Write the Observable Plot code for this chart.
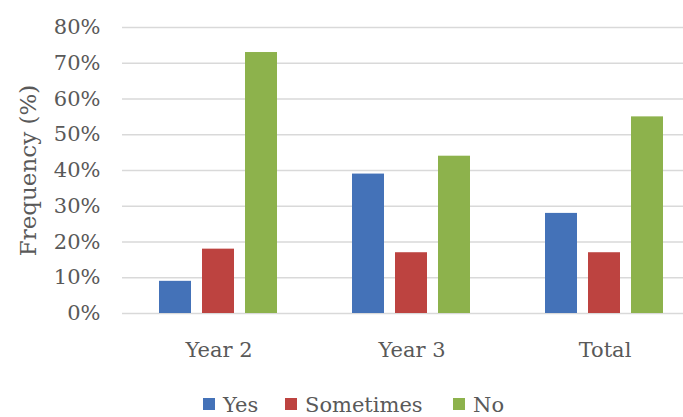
<!DOCTYPE html>
<html>
<head>
<meta charset="utf-8">
<script src="https://cdn.jsdelivr.net/npm/d3@7"></script>
<script src="https://cdn.jsdelivr.net/npm/@observablehq/plot@0.6"></script>
<style>
  html, body { margin: 0; padding: 0; background: #fff; overflow: hidden; }
  body { position: relative; width: 683px; height: 417px; }
  #chart svg { display: block; }
  #legend {
    position: absolute; left: 203px; top: 394px; height: 22px; line-height: 22px;
    display: flex; align-items: center;
    font-family: "DejaVu Serif", serif; font-size: 21px; color: #595959;
    white-space: nowrap;
  }
  #legend .item { display: flex; align-items: center; }
  #legend .item:nth-child(1) { width: 82px; }
  #legend .item:nth-child(2) { width: 168px; }
  #legend .sw { width: 12px; height: 12px; margin-right: 8px; flex: none; position: relative; top: -1px; }
</style>
</head>
<body>
<div id="chart"></div>
<div id="legend"></div>
<script>
// Groups along the x axis and the three answers in each group
const categories = ["Year 2", "Year 3", "Total"];
const series = ["Yes", "Sometimes", "No"];

// Frequency (%) per answer, one value per group
const yes = [9, 39, 28];
const sometimes = [18, 17, 17];
const no = [73, 44, 55];

const colors = ["#4472B8", "#BD4340", "#8DB24C"];
const yTicks = [0, 10, 20, 30, 40, 50, 60, 70, 80];
const yTitle = "Frequency (%)";

const valuesBySeries = [yes, sometimes, no];
const data = categories.flatMap((group, i) =>
  series.map((answer, j) => ({group, answer, value: valuesBySeries[j][i]}))
);

const chart = Plot.plot({
  width: 701,
  height: 375,
  marginLeft: 122,
  marginRight: 0,
  marginTop: 27,
  marginBottom: 62,
  style: {
    fontFamily: "DejaVu Serif, serif",
    fontSize: "21px",
    color: "#595959",
    background: "white",
    overflow: "visible",
    maxWidth: "none"
  },
  fx: {
    domain: categories,
    axis: "bottom",
    paddingInner: 0,
    paddingOuter: 0,
    label: null,
    tickSize: 0,
    tickPadding: 29
  },
  x: {domain: series, axis: null, paddingInner: 0.245, paddingOuter: 0.85},
  y: {
    domain: [0, 80],
    ticks: yTicks,
    tickFormat: d => d + "%",
    tickSize: 0,
    tickPadding: 22,
    label: null
  },
  color: {domain: series, range: colors},
  marks: [
    Plot.ruleY(yTicks, {stroke: "#d9d9d9", strokeWidth: 1.6}),
    Plot.barY(data, {fx: "group", x: "answer", y: "value", fill: "answer"}),
    Plot.text([yTitle], {
      fx: () => categories[0],
      frameAnchor: "left",
      textAnchor: "middle",
      rotate: -90,
      dx: -94,
      fill: "#595959",
      fontSize: 23
    })
  ]
});
document.getElementById("chart").append(chart);

// Legend swatches below the chart
const legend = document.getElementById("legend");
series.forEach((name, i) => {
  const item = document.createElement("div");
  item.className = "item";
  const sw = document.createElement("span");
  sw.className = "sw";
  sw.style.background = colors[i];
  const label = document.createElement("span");
  label.textContent = name;
  item.append(sw, label);
  legend.append(item);
});
</script>
</body>
</html>
